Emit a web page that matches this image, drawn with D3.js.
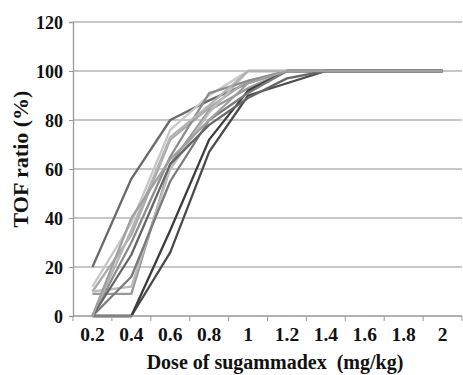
<!DOCTYPE html>
<meta charset="utf-8">
<style>
body { margin: 0; background: #fff; }
text { font-family: "Liberation Serif", "Times New Roman", serif; font-weight: bold; fill: #111; }
</style>
<svg width="463" height="375"></svg>
<script src="https://cdn.jsdelivr.net/npm/d3@7"></script>
<script>

var doses = ["0.2", "0.4", "0.6", "0.8", "1", "1.2", "1.4", "1.6", "1.8", "2"];
var yTicks = [0, 20, 40, 60, 80, 100, 120];

// one array per patient, TOF ratio (%) at each dose
var p1  = [20, 56, 80, 88, 95, 100, 100, 100, 100, 100];
var p2  = [12, 38, 76, 90, 100, 100, 100, 100, 100, 100];
var p3  = [10, 33, 72, 85, 96, 100, 100, 100, 100, 100];
var p4  = [9, 9, 62, 84, 93, 100, 100, 100, 100, 100];
var p5  = [10, 12, 60, 83, 100, 100, 100, 100, 100, 100];
var p6  = [0, 0, 26, 67, 90, 95, 100, 100, 100, 100];
var p7  = [0, 0, 35, 72, 92, 100, 100, 100, 100, 100];
var p8  = [0, 16, 55, 80, 91, 100, 100, 100, 100, 100];
var p9  = [0, 30, 65, 91, 96, 100, 100, 100, 100, 100];
var p10 = [0, 35, 73, 86, 100, 100, 100, 100, 100, 100];
var p11 = [0, 25, 62, 78, 89, 97, 100, 100, 100, 100];
var p12 = [0, 40, 64, 80, 95, 100, 100, 100, 100, 100];

var patients = [p1, p2, p3, p4, p5, p6, p7, p8, p9, p10, p11, p12];
var greys = ["#6a6a6a", "#c8c8c8", "#ababab", "#9a9a9a", "#bcbcbc", "#4a4a4a",
             "#3c3c3c", "#7a7a7a", "#8c8c8c", "#b3b3b3", "#666666", "#a0a0a0"];

var svg = d3.select("svg"),
    margin = {top: 22, right: 1, bottom: 59, left: 73},
    width = +svg.attr("width") - margin.left - margin.right,
    height = +svg.attr("height") - margin.top - margin.bottom;

var g = svg.append("g").attr("transform", "translate(" + margin.left + "," + margin.top + ")");

var x = d3.scalePoint().domain(doses).range([0, width]).padding(0.5);
var xb = d3.scaleBand().domain(doses).range([0, width]);
var y = d3.scaleLinear().domain([0, 120]).range([height, 0]);

// gridlines
g.selectAll(".grid")
    .data(yTicks.filter(function(d) { return d > 0; }))
  .enter().append("line")
    .attr("x1", 0).attr("x2", width)
    .attr("y1", function(d) { return y(d); })
    .attr("y2", function(d) { return y(d); })
    .attr("stroke", "#b4b4b4")
    .attr("stroke-width", 1.3);

var line = d3.line()
    .x(function(d, i) { return x(doses[i]); })
    .y(function(d) { return y(d); });

g.selectAll(".patient")
    .data(patients)
  .enter().append("path")
    .attr("fill", "none")
    .attr("stroke", function(d, i) { return greys[i]; })
    .attr("stroke-width", 2.3)
    .attr("stroke-linejoin", "round")
    .attr("d", line);

// y axis
var yAxis = g.append("g")
    .call(d3.axisLeft(y).tickValues(yTicks).tickSize(4).tickPadding(6));
yAxis.select(".domain").attr("stroke", "#999").attr("stroke-width", 1.3);
yAxis.selectAll(".tick line").attr("stroke", "#999");
yAxis.selectAll("text").style("font-size", "18px").attr("dy", "0.34em");

// x axis: ticks at category boundaries, labels at centres
var xAxis = g.append("g").attr("transform", "translate(0," + height + ")");
xAxis.append("line")
    .attr("x1", 0).attr("x2", width)
    .attr("stroke", "#999").attr("stroke-width", 1.3);
xAxis.selectAll(".xtick")
    .data(doses.concat(["end"]))
  .enter().append("line")
    .attr("x1", function(d, i) { return i * xb.step(); })
    .attr("x2", function(d, i) { return i * xb.step(); })
    .attr("y1", 0).attr("y2", 5)
    .attr("stroke", "#999");
xAxis.selectAll(".xlab")
    .data(doses)
  .enter().append("text")
    .attr("x", function(d) { return x(d); })
    .attr("y", 25)
    .attr("text-anchor", "middle")
    .style("font-size", "19.5px")
    .text(function(d) { return d; });

svg.append("text")
    .attr("x", 275)
    .attr("y", 369)
    .attr("text-anchor", "middle")
    .style("font-size", "20px")
    .style("white-space", "pre")
    .text("Dose of sugammadex  (mg/kg)");

svg.append("text")
    .attr("transform", "translate(28,159) rotate(-90)")
    .attr("text-anchor", "middle")
    .style("font-size", "22px")
    .text("TOF ratio (%)");

</script>
